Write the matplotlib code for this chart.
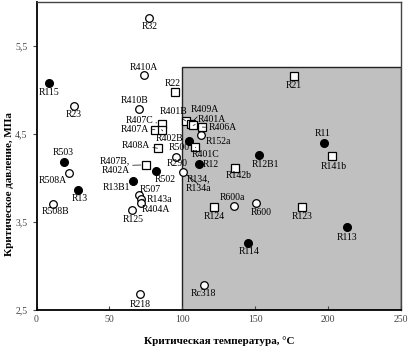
import matplotlib.pyplot as plt
from matplotlib.patches import Rectangle

plt.rcParams['font.family'] = ['Liberation Serif', 'DejaVu Serif']

# хладагенты: критическая температура (°C) и давление (МПа)
filled_names = ["R115", "R503", "R13", "R13B1", "R502", "R500", "R12",
                "R12B1", "R11", "R114", "R113"]
filled_t = [8.8, 19.0, 28.4, 66.3, 81.8, 104.7, 111.1, 152.6, 197.1, 144.9, 212.9]
filled_p = [5.08, 4.18, 3.86, 3.97, 4.08, 4.42, 4.16, 4.26, 4.40, 3.26, 3.44]

open_names = ["R32", "R410A", "R23", "R410B", "R152a", "R290", "R508A", "R508B",
              "R134,\nR134a", "R507", "R143a", "R404A", "R125", "R600a", "R600",
              "Rc318", "R218"]
open_t = [77.3, 73.6, 25.7, 70.4, 112.7, 95.5, 22.3, 11.5, 100.5, 70.2, 71.9,
          71.6, 65.6, 135.3, 150.3, 114.7, 70.9]
open_p = [5.82, 5.17, 4.82, 4.78, 4.49, 4.24, 4.06, 3.71, 4.07, 3.81, 3.76,
          3.72, 3.64, 3.68, 3.72, 2.79, 2.68]

square_names = ["R22", "R21", "R401B", "R409A", "R401A", "R406A", "R407C", "R407A",
                "R402B", "R408A", "R401C", "R407B,\nR402A", "R142b", "R141b",
                "R124", "R123"]
square_t = [95.1, 176.4, 102.2, 105.6, 107.4, 113.7, 85.8, 81.2, 85.8, 83.0,
            109.0, 75.0, 136.0, 202.9, 121.6, 182.3]
square_p = [4.98, 5.16, 4.65, 4.62, 4.60, 4.58, 4.62, 4.55, 4.55, 4.34, 4.35,
            4.15, 4.11, 4.25, 3.67, 3.67]

zone_t = (100, 250)
zone_p = (2.5, 5.26)

# смещение подписи в пикселях (dx, dy вниз), выравнивание, выноска
label_pos = {
    "R32": (0, 8.5, "center", False), "R410A": (0, -8, "center", False),
    "R22": (-2.5, -8.5, "center", False), "R21": (0, 9, "center", False),
    "R115": (0, 9.7, "center", False), "R23": (0, 9, "center", False),
    "R410B": (-5, -8.5, "center", False), "R401B": (-12, -9.5, "center", True),
    "R409A": (14, -14, "center", True), "R401A": (19, -6, "center", True),
    "R406A": (6, 0.7, "left", True), "R152a": (5, 6.5, "left", False),
    "R407C": (-8.5, -3, "right", True), "R407A": (-5.5, 0, "right", True),
    "R402B": (7.5, 8.5, "center", True), "R500": (-10, 6.5, "center", False),
    "R408A": (-7.5, -3, "right", True), "R401C": (10, 7.5, "center", True),
    "R290": (1, 7, "center", False), "R12": (4, 0.6, "left", True),
    "R407B,\nR402A": (-16, 0.7, "right", True), "R142b": (3.5, 7.5, "center", False),
    "R12B1": (6, 9, "center", False), "R11": (-1.5, -9.3, "center", False),
    "R141b": (1, 10, "center", False), "R503": (-1.5, -9.3, "center", False),
    "R508A": (-16, 7.7, "center", False), "R13": (2, 8.3, "center", False),
    "R508B": (2, 8, "center", False), "R13B1": (-17, 6.6, "center", False),
    "R502": (9, 8.6, "center", False), "R134,\nR134a": (15, 12, "center", True),
    "R507": (11, -5.5, "center", False), "R143a": (5.5, 0, "left", True),
    "R404A": (14.5, 7, "center", False), "R125": (0.7, 9.7, "center", False),
    "R124": (0, 9.4, "center", False), "R600a": (-1, -9, "center", False),
    "R600": (6, 10, "center", False), "R123": (-0.5, 9.6, "center", False),
    "R114": (1, 8, "center", False), "R113": (0.5, 10.3, "center", False),
    "Rc318": (-0.5, 9.4, "center", False), "R218": (0, 10, "center", False),
}

fig = plt.figure(figsize=(4.08, 3.52), dpi=100)
ax = fig.add_axes([0.0895, 0.119, 0.8935, 0.875])

ax.add_patch(Rectangle((zone_t[0], zone_p[0]), zone_t[1] - zone_t[0], zone_p[1] - zone_p[0],
                       facecolor="#c0c0c0", edgecolor="#222222", lw=1.0, zorder=1))

ax.plot(filled_t, filled_p, "o", ms=5.5, mfc="black", mec="black", ls="none", zorder=3)
ax.plot(open_t, open_p, "o", ms=5.5, mfc="white", mec="black", mew=0.9, ls="none", zorder=3)
ax.plot(square_t, square_p, "s", ms=5.5, mfc="white", mec="black", mew=0.9, ls="none", zorder=3)

k = 0.72  # px -> pt
for names, ts, ps in [(filled_names, filled_t, filled_p), (open_names, open_t, open_p),
                      (square_names, square_t, square_p)]:
    for n, t, p in zip(names, ts, ps):
        dx, dy, ha, lead = label_pos[n]
        arrow = dict(arrowstyle="-", lw=0.5, color="black", shrinkA=0, shrinkB=3.5) if lead else None
        ax.annotate(n, (t, p), xytext=(dx * k, -dy * k), textcoords="offset points",
                    ha=ha, va="center", fontsize=7, linespacing=1.1,
                    arrowprops=arrow, zorder=4)

ax.set_xlim(0, 250)
ax.set_ylim(2.5, 6.0)
ax.set_xticks([0, 50, 100, 150, 200, 250])
ax.set_yticks([2.5, 3.5, 4.5, 5.5])
ax.set_yticklabels(["2,5", "3,5", "4,5", "5,5"])
ax.tick_params(axis="both", labelsize=7, colors="#444444", length=3, width=0.8)
ax.tick_params(axis="x", direction="in")
ax.tick_params(axis="y", direction="out")

for s in ["left", "bottom"]:
    ax.spines[s].set_linewidth(1.3)
for s in ["top", "right"]:
    ax.spines[s].set_linewidth(1.0)
    ax.spines[s].set_color("#444444")

ax.set_xlabel("Критическая температура, °C", fontsize=8, fontweight="bold")
ax.xaxis.set_label_coords(0.5, -0.085)
ax.set_ylabel("Критическое давление, МПа", fontsize=8, fontweight="bold")
ax.yaxis.set_label_coords(-0.062, 0.41)

fig.savefig("out.png", dpi=100)
